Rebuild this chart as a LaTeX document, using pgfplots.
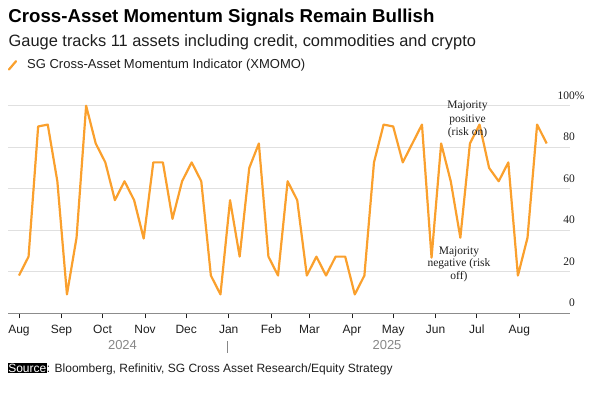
\documentclass[border=0pt]{standalone}
\usepackage{pgfplots}
\pgfplotsset{compat=1.18}
\usepackage{fontspec}
\setmainfont{Liberation Sans}
\newfontfamily\serif{Liberation Serif}
\definecolor{bbor}{RGB}{250,160,45}
\definecolor{gridc}{RGB}{224,224,224}
\definecolor{axc}{RGB}{140,140,140}
\definecolor{txt}{RGB}{30,30,30}
\definecolor{yr}{RGB}{135,135,135}
\pgfplotstableread{
x y
0 18.2
7 27.3
14 90.0
21 90.9
28 63.6
35 9.1
42 36.4
49 100
56 81.8
63 72.7
70 54.5
77 63.6
84 54.5
91 36.0
98 72.7
105 72.7
112 45.5
119 63.6
126 72.7
133 63.6
140 18.2
147 9.1
154 54.5
161 27.3
168 70.0
175 81.8
182 27.3
189 18.2
196 63.6
203 54.5
210 18.2
217 27.3
224 18.2
231 27.3
238 27.3
245 9.1
252 18.2
259 72.7
266 90.9
273 90.0
280 72.7
287 81.8
294 90.9
301 26.8
308 81.8
315 63.6
322 36.4
329 81.8
336 90.9
343 70.0
350 63.6
357 72.7
364 18.2
371 36.4
378 90.9
385 81.8
}\xmomo
\begin{document}
\begin{tikzpicture}
\path[use as bounding box] (0,0) rectangle (602bp,-393bp);
\begin{axis}[
  at={(8bp,-313.3bp)}, anchor=south west,
  scale only axis, width=562bp, height=207.6bp,
  xmin=-8, xmax=402, ymin=0, ymax=100,
  clip=false,
  axis x line*=bottom,
  axis y line*=right,
  y axis line style={draw=none},
  x axis line style={draw=axc, line width=1.5bp},
  xtick={0,31,61,92,122,153,184,212,243,273,304,334,365},
  xticklabels={Aug,Sep,Oct,Nov,Dec,Jan,Feb,Mar,Apr,May,Jun,Jul,Aug},
  tick align=outside,
  major tick length=5bp,
  xtick style={draw=txt, line width=0.8bp},
  ytick style={draw=none},
  xticklabel style={font=\fontsize{12bp}{14bp}\selectfont, text=txt, anchor=base, inner sep=0pt, yshift=-15.5bp},
  xticklabel shift=0bp,
  ytick={0,20,40,60,80,100},
  yticklabels={0,20,40,60,80,100\rlap{\%}},
  yticklabel style={font=\serif\fontsize{11.5bp}{13bp}\selectfont, text=txt, anchor=east, inner sep=0pt, yshift=10.3bp},
  ymajorgrids, major grid style={draw=gridc, line width=1.2bp},
]
\addplot[draw=bbor, line width=2.2bp, line join=round, mark=none] table[x=x,y=y] {\xmomo};
\end{axis}
% titles
\node[anchor=base west, inner sep=0pt, text=black] at (8.3bp,-22.7bp) {\fontsize{18.65bp}{22bp}\selectfont\bfseries Cross-Asset Momentum Signals Remain Bullish};
\node[anchor=base west, inner sep=0pt, text=txt] at (8.5bp,-46bp) {\fontsize{16.4bp}{19bp}\selectfont Gauge tracks 11 assets including credit, commodities and crypto};
\draw[bbor, line width=2.2bp, line cap=round] (9bp,-69.5bp) -- (16bp,-61.2bp);
\node[anchor=base west, inner sep=0pt, text=txt] at (27bp,-68.3bp) {\fontsize{13bp}{15bp}\selectfont SG Cross-Asset Momentum Indicator (XMOMO)};
% annotations
\node[align=center, inner sep=0pt, text=txt, font=\serif\fontsize{11.5bp}{13.5bp}\selectfont] at (467.5bp,-119.5bp) {Majority\\positive\\(risk on)};
\node[align=center, inner sep=0pt, text=txt, font=\serif\fontsize{11.5bp}{12.5bp}\selectfont] at (459bp,-264.3bp) {Majority\\negative (risk\\off)};
% years
\node[anchor=base, inner sep=0pt, text=yr] at (122.5bp,-349.5bp) {\fontsize{13bp}{15bp}\selectfont 2024};
\node[anchor=base, inner sep=0pt, text=yr] at (387bp,-349.5bp) {\fontsize{13bp}{15bp}\selectfont 2025};
\draw[yr, line width=1bp] (227bp,-341bp) -- (227bp,-353bp);
% source
\node[anchor=base west, inner sep=0pt, text=txt] at (7.5bp,-372bp) {\fontsize{12bp}{14bp}\selectfont\fboxsep=0.6bp\colorbox{black}{\textcolor{white}{Source}}: Bloomberg, Refinitiv, SG Cross Asset Research/Equity Strategy};
\end{tikzpicture}
\end{document}
